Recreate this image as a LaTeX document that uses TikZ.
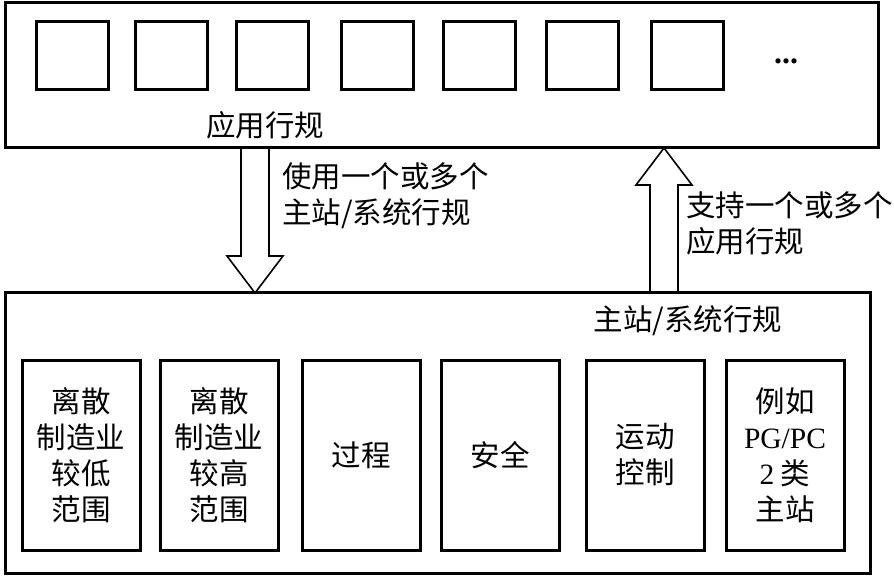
\documentclass[tikz,border=0pt]{standalone}
\usepackage{fontspec}
\setmainfont{Liberation Serif}
\newfontfamily\cjk{Noto Sans CJK SC}
\usetikzlibrary{positioning,calc}

% hollow block arrow between two points (vertical)
\newcommand{\fatarrow}[2]{%
  \draw[fatarr] let \p1=(#1), \p2=(#2), \p3=($(#2)!37pt!(#1)$) in
    (\x1-14pt,\y1) -- (\x1-14pt,\y3) -- (\x1-28pt,\y3) -- (\x2,\y2)
    -- (\x1+28pt,\y3) -- (\x1+14pt,\y3) -- (\x1+14pt,\y1);}

\begin{document}
\begin{tikzpicture}[
  x=1pt, y=-1pt,
  font=\cjk\fontsize{29.5}{36}\selectfont,
  frame/.style={draw,line width=3pt,inner sep=0pt,outer sep=0pt},
  slot/.style={draw,line width=3pt,minimum width=72pt,minimum height=68pt,inner sep=0pt,outer sep=0pt},
  profbox/.style={draw,line width=3pt,minimum width=118pt,minimum height=190pt,align=center,inner sep=0pt,outer sep=0pt},
  fatarr/.style={draw,line width=1.6pt,line join=miter},
  lbl/.style={align=left,inner sep=0pt}
]
\useasboundingbox (0,0) rectangle (894,577);

% application profiles
\node[frame,minimum width=873pt,minimum height=145pt] (app) at (441.5,75.5) {};
\node[slot] (s1) at (72,56) {};
\node[slot,right=27pt of s1] (s2) {};
\node[slot,right=29pt of s2] (s3) {};
\node[slot,right=33pt of s3] (s4) {};
\node[slot,right=30pt of s4] (s5) {};
\node[slot,right=31pt of s5] (s6) {};
\node[slot,right=33pt of s6] (s7) {};
\node[anchor=base,font=\rmfamily\bfseries\fontsize{32}{36}\selectfont] (more) at (786,64) {...};
\node[inner sep=0pt] (apptitle) at (265,125) {应用行规};

% master / system profiles
\node[frame,minimum width=865pt,minimum height=280pt] (master) at (437.5,433) {};
\node[inner sep=0pt] (mastertitle) at (688,321) {主站/系统行规};
\node[profbox] (p1) at (81,455) {离散\\制造业\\较低\\范围};
\node[profbox,right=20pt of p1] (p2) {离散\\制造业\\较高\\范围};
\node[profbox,right=24pt of p2] (p3) {过程};
\node[profbox,right=21pt of p3] (p4) {安全};
\node[profbox,right=27pt of p4] (p5) {运动\\控制};
\node[profbox,right=22pt of p5] (p6) {例如\\{\rmfamily PG/PC}\\{\rmfamily 2} 类\\主站};

% arrows
\coordinate (useS) at ($(app.south west)+(250,0)$);
\coordinate (useE) at ($(master.north west)+(250,0)$);
\coordinate (supS) at ($(master.north west)+(659,0)$);
\coordinate (supE) at ($(app.south west)+(659,0)$);
\fatarrow{useS}{useE}
\fatarrow{supS}{supE}
\node[lbl,anchor=west] (uselbl) at (282,196) {使用一个或多个\\主站/系统行规};
\node[lbl,anchor=west] (suplbl) at (686,223) {支持一个或多个\\应用行规};
\end{tikzpicture}
\end{document}
